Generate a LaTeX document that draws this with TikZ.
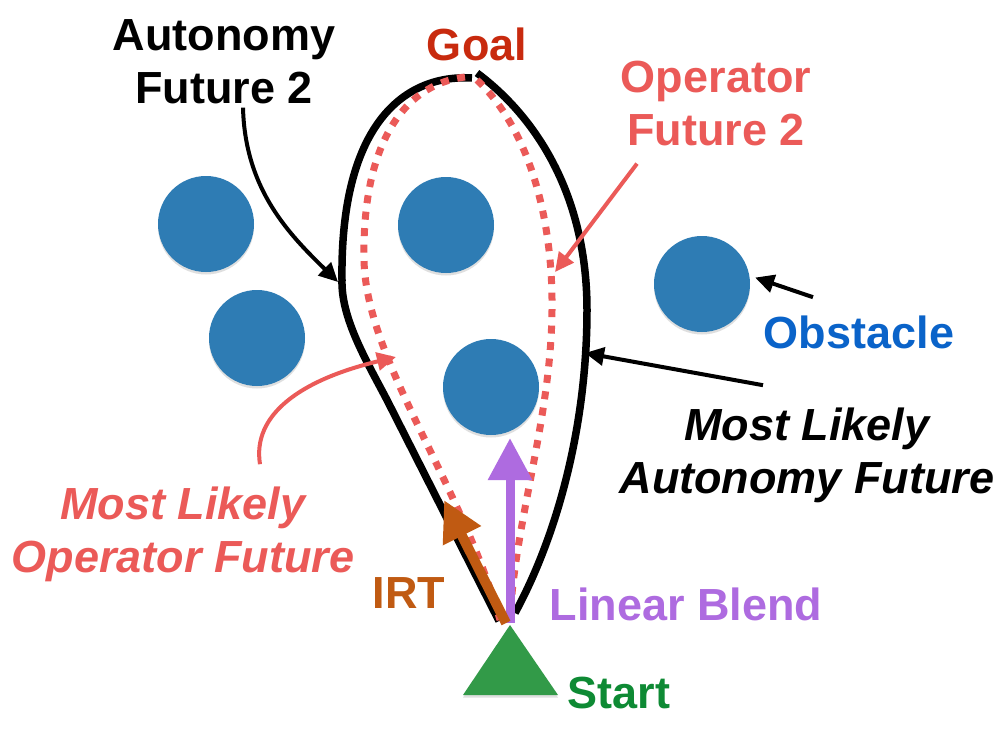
\documentclass[tikz,border=0pt]{standalone}
\usepackage{fontspec}
\setmainfont{Liberation Sans}
\usetikzlibrary{arrows.meta,calc,shadows}
\definecolor{ink}{HTML}{000000}
\definecolor{obsBlue}{HTML}{2E7CB4}
\definecolor{obsText}{HTML}{0A63C9}
\definecolor{goalRed}{HTML}{C82A0E}
\definecolor{opSalmon}{HTML}{EB5A58}
\definecolor{blendPurple}{HTML}{AE6BE0}
\definecolor{irtOrange}{HTML}{C05A12}
\definecolor{startGreen}{HTML}{0E8A34}
\definecolor{startFill}{HTML}{329A48}
\tikzset{
  every node/.style={text=ink},
  figtext/.style={font=\fontsize{45}{53}\selectfont\bfseries, align=center,
    anchor=base, inner sep=2pt},
  figslant/.style={figtext, font=\fontsize{45}{53}\selectfont\bfseries\itshape},
  obstacle/.style={circle, fill=obsBlue, minimum size=96pt, inner sep=0pt,
    drop shadow={shadow xshift=0pt, shadow yshift=-2.5pt, opacity=.25}},
  autopath/.style={draw=ink, line width=7.5pt},
  oppath/.style={draw=opSalmon, line width=7pt, dash pattern=on 8pt off 8.5pt},
  pointer/.style={-{Triangle[length=19pt,width=18pt]}, line width=4pt},
  blendarrow/.style={-{Triangle[length=42pt,width=42pt]}, draw=blendPurple,
    line width=9pt},
  irtarrow/.style={-{Triangle[length=40pt,width=40pt]}, draw=irtOrange,
    line width=10pt}
}
\begin{document}
\begin{tikzpicture}[x=1pt,y=-1pt]
\useasboundingbox[fill=white] (0,0) rectangle (1004,736);

% obstacles
\node[obstacle] (obsA) at (206,224) {};
\node[obstacle] (obsB) at (257,338) {};
\node[obstacle] (obsC) at (446,225) {};
\node[obstacle] (obsD) at (491,387) {};
\node[obstacle] (obsE) at (702,284) {};

% autonomy futures (solid) and operator futures (dotted)
\draw[autopath] (472,78) .. controls (400,74) and (340,130) .. (342,280)
  .. controls (341,318) and (366,360) .. (387,400) -- (499,621);
\draw[autopath] (515,613) .. controls (560,530) and (587,420) .. (587,310)
  .. controls (587,200) and (540,120) .. (477,73);
\draw[oppath] (465,77) .. controls (400,85) and (362,150) .. (364,260)
  .. controls (366,360) and (460,480) .. (500,620);
\draw[oppath] (477,80) .. controls (530,130) and (553,220) .. (552,310)
  .. controls (551,420) and (515,520) .. (510,620);

\coordinate (af2tip) at (338,282);
\coordinate (of2tip) at (555,272);
\coordinate (mlatip) at (585,353);
\coordinate (mlotip) at (396,357);
\coordinate (origin) at (510,623);

% blended commands
\draw[blendarrow] (origin) -- ++(0,-185) coordinate (blendtip);
\draw[irtarrow] ([xshift=-4pt]origin) -- (444,500) coordinate (irttip);

% start marker
\fill[startFill, drop shadow={shadow xshift=0pt, shadow yshift=-2.5pt, opacity=.25}]
  (510,625) -- (558,695) -- (463,695) -- cycle;

% labels
\node[figtext] (auto2) at (224,103) {Autonomy\\Future 2};
\node[figtext, text=goalRed] (goal) at (477,60) {Goal};
\node[figtext, text=opSalmon] (op2) at (716,145) {Operator\\Future 2};
\node[figtext, text=obsText] (obst) at (859,348) {Obstacle};
\node[figslant] (mlAuto) at (807,493) {Most Likely\\Autonomy Future};
\node[figslant, text=opSalmon] (mlOp) at (183,572) {Most Likely\\Operator Future};
\node[figtext, text=irtOrange] (irt) at (409,608) {IRT};
\node[figtext, text=blendPurple] (blend) at (686,620) {Linear Blend};
\node[figtext, text=startGreen] (start) at (619,708) {Start};

% pointers
\draw[pointer] ($(auto2.south)+(19,2)$) .. controls (245,190) and (290,235) .. (af2tip);
\draw[pointer, draw=opSalmon] ($(op2.south)+(-79,16)$) -- (of2tip);
\draw[pointer, shorten >=6pt] ($(obst.north)+(-46,-16)$) -- (obsE.10);
\draw[pointer] ($(mlAuto.north)+(-44,-20)$) -- (mlatip);
\draw[pointer, draw=opSalmon] ($(mlOp.north)+(77,-20)$)
  .. controls (252,415) and (300,380) .. (mlotip);

\end{tikzpicture}
\end{document}
